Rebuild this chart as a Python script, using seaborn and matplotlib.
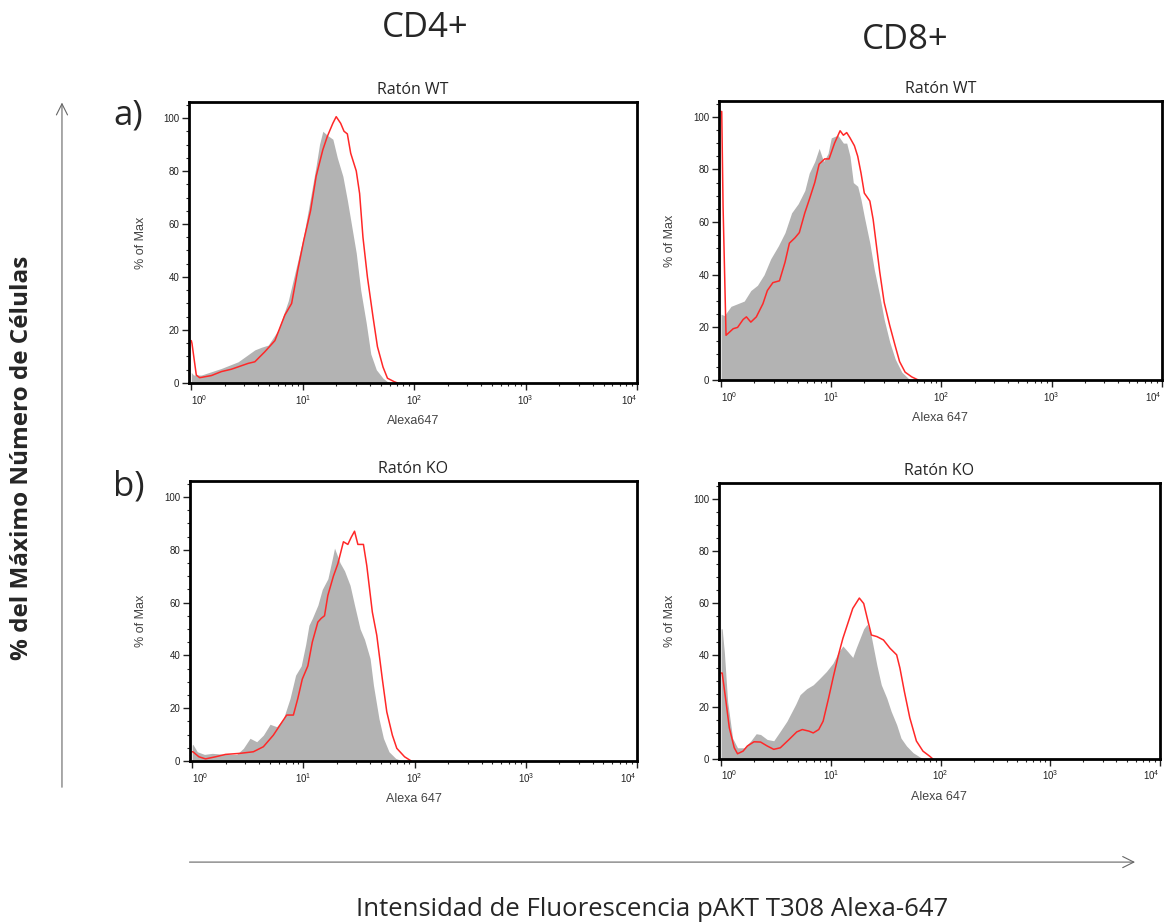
import matplotlib
matplotlib.use("Agg")
import matplotlib.pyplot as plt
from matplotlib.patches import FancyArrowPatch
from matplotlib.ticker import FixedLocator, NullFormatter, MultipleLocator
import numpy as np
import pandas as pd
import seaborn as sns

# log10 of the intensity and % of max
cd4_wt_gray_log = [0.0, 0.02, 0.09, 0.27, 0.42, 0.57, 0.63, 0.69, 0.78, 0.87, 0.955, 1.01, 1.07, 1.12,
                   1.15, 1.18, 1.22, 1.27, 1.31, 1.36, 1.40, 1.43, 1.48, 1.52, 1.57, 1.61, 1.66, 1.72,
                   1.76, 1.79]
cd4_wt_gray_pct = [4, 3, 3, 5.5, 8, 12.5, 13.5, 14.3, 20, 31, 46, 56, 70, 82,
                   90, 95, 93.5, 92, 85, 78, 69, 61.5, 49, 35, 22.5, 11, 5, 1.8,
                   0.5, 0]
cd4_wt_red_log = [0.0, 0.006, 0.045, 0.075, 0.18, 0.27, 0.36, 0.51, 0.57, 0.66, 0.75, 0.84, 0.9, 0.955,
                  1.01, 1.07, 1.12, 1.18, 1.22, 1.27, 1.30, 1.34, 1.37, 1.40, 1.43, 1.48, 1.51, 1.54,
                  1.58, 1.63, 1.67, 1.72, 1.76, 1.82, 1.85]
cd4_wt_red_pct = [16, 15, 3, 2, 2.8, 4.3, 5.2, 7.4, 8, 11.8, 16, 25.7, 30, 42.6,
                  54, 65, 78, 88, 93, 98, 100.5, 98, 95, 94, 86.7, 80, 71.5, 55,
                  40, 25, 13.7, 6, 1.8, 0.5, 0]

cd8_wt_gray_log = [0.0, 0.03, 0.09, 0.15, 0.21, 0.27, 0.33, 0.39, 0.45, 0.52, 0.58, 0.64, 0.70, 0.76,
                   0.80, 0.85, 0.89, 0.93, 0.97, 1.0, 1.06, 1.11, 1.14, 1.17, 1.20, 1.24, 1.27, 1.30,
                   1.35, 1.39, 1.44, 1.48, 1.53, 1.58, 1.64, 1.70, 1.73]
cd8_wt_gray_pct = [25, 24.5, 28, 29, 30, 34, 36, 40, 46, 51, 56, 63.5, 67, 72,
                   78.6, 83, 88, 83, 86, 92, 93, 90, 90, 85, 75, 73.6, 68.5, 62,
                   52, 42, 32, 23, 14.5, 8, 3, 0.6, 0]
cd8_wt_red_log = [0.0, 0.006, 0.018, 0.045, 0.11, 0.15, 0.2, 0.23, 0.27, 0.32, 0.38, 0.42, 0.47, 0.53,
                  0.58, 0.62, 0.67, 0.71, 0.76, 0.80, 0.85, 0.89, 0.94, 0.98, 1.03, 1.08, 1.11, 1.14,
                  1.17, 1.21, 1.24, 1.27, 1.30, 1.35, 1.38, 1.41, 1.44, 1.48, 1.53, 1.58, 1.62, 1.67,
                  1.73, 1.79]
cd8_wt_red_pct = [102, 102, 66, 17, 19.5, 20, 23, 24, 22, 24, 29, 34, 37, 37.7,
                  44.7, 52, 54, 56, 63.5, 68.5, 75, 82, 84, 84, 90, 94.7, 93, 94,
                  92, 89, 85, 78.6, 71, 68, 61, 51, 41, 29.5, 20.8, 13, 7, 3,
                  1.2, 0]

cd4_ko_gray_log = [0.0, 0.006, 0.046, 0.11, 0.18, 0.30, 0.40, 0.46, 0.52, 0.58, 0.64, 0.70, 0.76, 0.82,
                   0.88, 0.93, 0.98, 1.02, 1.05, 1.08, 1.13, 1.17, 1.22, 1.26, 1.28, 1.33, 1.37, 1.42,
                   1.46, 1.51, 1.55, 1.60, 1.63, 1.68, 1.72, 1.77, 1.83, 1.89]
cd4_ko_gray_pct = [6, 6.3, 3.5, 2.5, 2.9, 2.5, 2.5, 4.8, 8.6, 7.3, 9.8, 13.9, 13, 16,
                   23.7, 32.5, 36, 44, 51.4, 54, 59, 65, 69, 76.6, 80.6, 75, 72, 66.5,
                   59, 50, 46, 38.8, 28.7, 16, 8.6, 3.5, 1, 0]
cd4_ko_red_log = [0.0, 0.006, 0.06, 0.12, 0.21, 0.30, 0.43, 0.55, 0.64, 0.73, 0.81, 0.85, 0.91, 0.95,
                  0.99, 1.04, 1.08, 1.13, 1.16, 1.19, 1.22, 1.27, 1.31, 1.36, 1.40, 1.43, 1.46, 1.49,
                  1.54, 1.57, 1.62, 1.66, 1.71, 1.75, 1.80, 1.84, 1.91, 1.97]
cd4_ko_red_pct = [3.5, 3.5, 1.6, 0.8, 1.6, 2.5, 2.9, 3.5, 5.4, 9.8, 14.9, 17.4, 17.4, 23.7,
                  31, 36, 45, 52.6, 54, 55, 62.7, 70, 74.7, 83, 82, 84.7, 87, 82,
                  82, 74, 56.4, 47.6, 31, 18.6, 9.8, 4.8, 1.6, 0]

cd8_ko_gray_log = [0.0, 0.01, 0.03, 0.06, 0.105, 0.15, 0.21, 0.27, 0.32, 0.36, 0.42, 0.48, 0.54, 0.60,
                   0.68, 0.72, 0.78, 0.84, 0.90, 0.96, 1.02, 1.07, 1.11, 1.16, 1.20, 1.23, 1.30, 1.33,
                   1.36, 1.39, 1.42, 1.46, 1.51, 1.55, 1.60, 1.64, 1.69, 1.75, 1.81, 1.85]
cd8_ko_gray_pct = [50, 50, 41, 22, 8, 4.3, 4.3, 6.9, 9.7, 9.4, 7.5, 7, 10.7, 14.5,
                   21, 24.7, 27, 28.5, 31, 33.6, 36.8, 41, 43.4, 41, 39, 42.5, 50, 51.7,
                   49, 42.5, 36, 28.5, 23.4, 18.3, 13.2, 8, 5, 2.4, 0.8, 0]
cd8_ko_red_log = [0.0, 0.01, 0.045, 0.075, 0.12, 0.15, 0.2, 0.24, 0.30, 0.36, 0.42, 0.48, 0.54, 0.62,
                  0.69, 0.74, 0.80, 0.84, 0.89, 0.93, 0.98, 1.02, 1.07, 1.11, 1.16, 1.20, 1.26, 1.30,
                  1.34, 1.37, 1.42, 1.48, 1.54, 1.60, 1.63, 1.67, 1.72, 1.78, 1.84, 1.90, 1.93]
cd8_ko_red_pct = [33, 33, 22, 12, 4.3, 2, 3, 5, 6.6, 6.5, 5, 3.7, 4.3, 7.5,
                  10.4, 11.3, 10.7, 10, 11.3, 14.5, 23.4, 31, 40, 46.3, 52.7, 57.8, 61.8, 59.7,
                  52.7, 47.6, 47, 45.7, 42.5, 40, 34.9, 26, 15.8, 6.9, 3, 1.1, 0]

titles = ["Ratón WT", "Ratón WT", "Ratón KO", "Ratón KO"]
xlabels = ["Alexa647", "Alexa 647", "Alexa 647", "Alexa 647"]
decades = [1, 10, 100, 1000, 10000]

sns.set_style("ticks")
plt.rcParams['font.family'] = ['Liberation Sans', 'DejaVu Sans']
title_font = ['Open Sans', 'DejaVu Sans']

fig = plt.figure(figsize=(11.67, 9.24), dpi=100)

rects = [
    [0.162, 0.5855, 0.384, 0.304],
    [0.616, 0.5887, 0.3796, 0.302],
    [0.1628, 0.1764, 0.383, 0.303],
    [0.616, 0.1786, 0.378, 0.2987],
]
series = [
    (cd4_wt_gray_log, cd4_wt_gray_pct, cd4_wt_red_log, cd4_wt_red_pct),
    (cd8_wt_gray_log, cd8_wt_gray_pct, cd8_wt_red_log, cd8_wt_red_pct),
    (cd4_ko_gray_log, cd4_ko_gray_pct, cd4_ko_red_log, cd4_ko_red_pct),
    (cd8_ko_gray_log, cd8_ko_gray_pct, cd8_ko_red_log, cd8_ko_red_pct),
]

for rect, title, xlab, (g_log, g_pct, r_log, r_pct) in zip(rects, titles, xlabels, series):
    ax = fig.add_axes(rect)
    ax.set_xscale('log')
    gray = pd.DataFrame({'x': np.power(10.0, g_log), 'pct': g_pct})
    red = pd.DataFrame({'x': np.power(10.0, r_log), 'pct': r_pct})
    ax.fill_between(gray['x'], gray['pct'], color='#b3b3b3', lw=0)
    sns.lineplot(data=red, x='x', y='pct', color='#ff2828', lw=1.1, sort=False, ax=ax)
    ax.set_xlim(10 ** -0.02, 1e4)
    ax.set_ylim(0, 106)

    ax.xaxis.set_major_locator(FixedLocator(decades))
    ax.set_xticklabels([r'$\mathregular{10^{%d}}$' % i for i in range(5)])
    labels = ax.get_xticklabels()
    labels[0].set_horizontalalignment('left')
    labels[-1].set_horizontalalignment('right')
    minor = [m * d for d in decades[:-1] for m in range(2, 10)]
    ax.xaxis.set_minor_locator(FixedLocator(minor))
    ax.xaxis.set_minor_formatter(NullFormatter())
    ax.yaxis.set_major_locator(FixedLocator([0, 20, 40, 60, 80, 100]))
    ax.yaxis.set_minor_locator(MultipleLocator(5))
    ax.tick_params(axis='both', which='major', length=5, width=1, labelsize=7,
                   colors='#222222', direction='out', pad=2)
    ax.tick_params(axis='both', which='minor', length=2.5, width=0.8, direction='out')
    for sp in ax.spines.values():
        sp.set_linewidth(2)
        sp.set_color('black')

    ax.set_title(title, fontsize=11.5, family=title_font, pad=6)
    ax.set_xlabel(xlab, fontsize=9, color='#444444', labelpad=6)
    ax.set_ylabel('% of Max', fontsize=9, color='#444444', labelpad=12)

fig.text(0.364, 0.970, "CD4+", fontsize=25, family=title_font, ha='center', va='center')
fig.text(0.7755, 0.957, "CD8+", fontsize=25, family=title_font, ha='center', va='center')
fig.text(0.110, 0.8755, "a)", fontsize=25, family=title_font, ha='center', va='center')
fig.text(0.110, 0.473, "b)", fontsize=25, family=title_font, ha='center', va='center')
fig.text(0.019, 0.505, "% del Máximo Número de Células", fontsize=17.5, fontweight='bold',
         family=title_font, rotation=90, ha='center', va='center')
fig.text(0.5587, 0.0152, "Intensidad de Fluorescencia pAKT T308 Alexa-647", fontsize=18.5,
         family=title_font, ha='center', va='center')

fig.add_artist(FancyArrowPatch((0.0531, 0.145), (0.0531, 0.892), transform=fig.transFigure,
                               arrowstyle='->,head_length=8,head_width=4', color='#666666', lw=0.8))
fig.add_artist(FancyArrowPatch((0.160, 0.067), (0.975, 0.067), transform=fig.transFigure,
                               arrowstyle='->,head_length=8,head_width=4', color='#666666', lw=0.8))

fig.savefig("out.png", dpi=100)
